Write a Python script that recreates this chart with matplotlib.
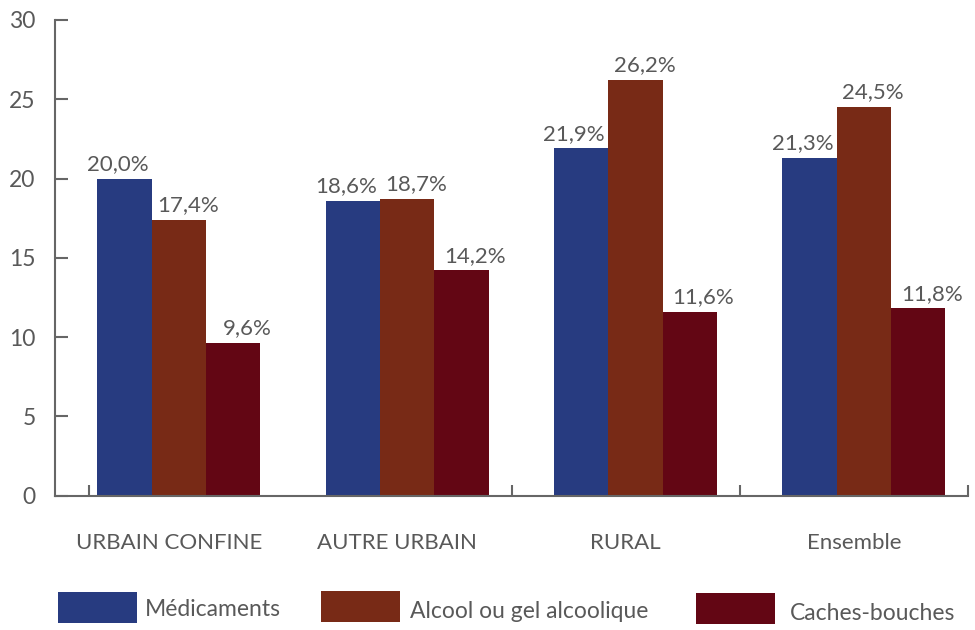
import matplotlib.pyplot as plt
from matplotlib.patches import Rectangle

categories = ["URBAIN CONFINE", "AUTRE URBAIN", "RURAL", "Ensemble"]
series_names = ["Médicaments", "Alcool ou gel alcoolique", "Caches-bouches"]
medicaments = [20.0, 18.6, 21.9, 21.3]
alcool = [17.4, 18.7, 26.2, 24.5]
caches = [9.6, 14.2, 11.6, 11.8]
colors = ["#273B80", "#782A16", "#630614"]

GREY = "#595959"
AXIS = "#666666"


def main():
    plt.rcParams["font.family"] = ["Lato", "DejaVu Sans"]
    fig = plt.figure(figsize=(9.75, 6.3), dpi=100)
    W, H = 975, 630
    ax = fig.add_axes([55 / W, 1 - 495.5 / H, 913 / W, 475.5 / H])

    width = 0.238
    shift = 0.043
    label_shift = [-0.03, 0.04, 0.06]  # labels sit a bit off the bar centres
    series = [medicaments, alcool, caches]
    for j, vals in enumerate(series):
        xs = [i + shift + (j - 1) * width for i in range(len(categories))]
        ax.bar(xs, vals, width=width, color=colors[j], linewidth=0, zorder=2)
        for x, v in zip(xs, vals):
            ax.text(x + label_shift[j], v + 0.3, f"{v:.1f}%".replace(".", ","),
                    ha="center", va="bottom", fontsize=16, color=GREY)

    ax.set_xlim(-0.5, 3.5)
    ax.set_ylim(0, 30)
    ax.set_yticks(range(0, 31, 5))
    ax.tick_params(axis="y", direction="in", length=9.5, width=1.5,
                   color=AXIS, labelsize=16.5, labelcolor=GREY, pad=14)
    ax.set_xticks(range(len(categories)))
    ax.set_xticklabels(categories)
    ax.tick_params(axis="x", length=0, labelsize=16, labelcolor=GREY, pad=27)
    ax.set_xticks([-0.35, 1.5, 2.5, 3.5], minor=True)
    ax.tick_params(axis="x", which="minor", direction="in", length=8,
                   width=1.5, color=AXIS)

    for side in ["top", "right"]:
        ax.spines[side].set_visible(False)
    for side in ["left", "bottom"]:
        ax.spines[side].set_color(AXIS)
        ax.spines[side].set_linewidth(1.5)

    # legend drawn by hand to keep the uneven spacing of the original
    boxes = [(58, 592), (321, 591), (696, 593)]
    texts = [(145, 609), (410, 612), (790, 614)]
    for (bx, by), (tx, ty), c, name in zip(boxes, texts, colors, series_names):
        fig.add_artist(Rectangle((bx / W, 1 - (by + 31) / H), 79 / W, 31 / H,
                                 transform=fig.transFigure, color=c, lw=0))
        fig.text(tx / W, 1 - ty / H, name, fontsize=16.5, color=GREY,
                 ha="left", va="center")

    fig.savefig("out.png", dpi=100)


if __name__ == "__main__":
    main()
